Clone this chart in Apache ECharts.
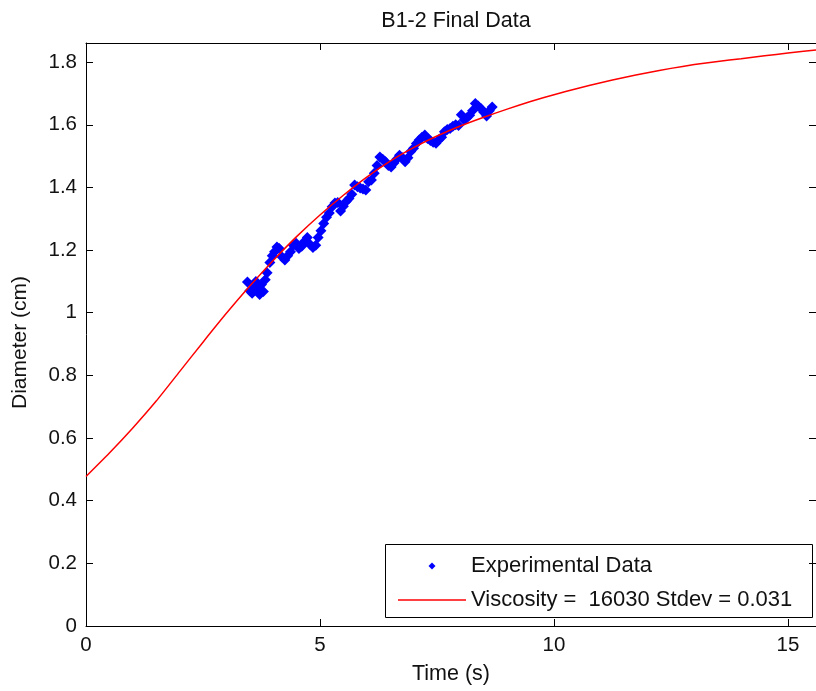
<!DOCTYPE html>
<html>
<head>
<meta charset="utf-8">
<script src="https://cdn.jsdelivr.net/npm/echarts@6/dist/echarts.min.js"></script>
<style>
  html, body { margin: 0; padding: 0; background: #fff; }
  #chart { width: 816px; height: 691px; }
</style>
</head>
<body>
<div id="chart"></div>
<script>
// Measured bubble diameter over time (cm vs s)
const timeS = [
  3.45, 3.50, 3.55, 3.59, 3.63, 3.67, 3.71, 3.75, 3.79, 3.83,
  3.87, 3.93, 3.98, 4.03, 4.08, 4.13, 4.19, 4.25, 4.31, 4.37,
  4.43, 4.49, 4.55, 4.61, 4.67, 4.73, 4.79, 4.85, 4.91, 4.96,
  5.02, 5.08, 5.14, 5.20, 5.26, 5.32, 5.38, 5.44, 5.50, 5.56,
  5.62, 5.68, 5.74, 5.80, 5.86, 5.92, 5.98, 6.04, 6.10, 6.16,
  6.22, 6.28, 6.34, 6.40, 6.46, 6.52, 6.58, 6.64, 6.70, 6.76,
  6.82, 6.88, 6.94, 7.00, 7.06, 7.12, 7.18, 7.24, 7.30, 7.36,
  7.42, 7.48, 7.54, 7.60, 7.66, 7.72, 7.78, 7.84, 7.90, 7.96,
  8.02, 8.08, 8.14, 8.20, 8.26, 8.32, 8.38, 8.44, 8.50, 8.56,
  8.62, 8.68
];
const diameterCm = [
  1.098, 1.070, 1.062, 1.085, 1.100, 1.075, 1.058, 1.090, 1.068, 1.105,
  1.128, 1.160, 1.182, 1.195, 1.210, 1.205, 1.178, 1.168, 1.182, 1.195,
  1.215, 1.222, 1.205, 1.212, 1.228, 1.240, 1.218, 1.208, 1.215, 1.240,
  1.262, 1.285, 1.305, 1.318, 1.338, 1.350, 1.352, 1.325, 1.340, 1.355,
  1.365, 1.378, 1.408, 1.402, 1.398, 1.395, 1.392, 1.418, 1.424, 1.445,
  1.470, 1.497, 1.490, 1.482, 1.470, 1.465, 1.478, 1.490, 1.503, 1.495,
  1.482, 1.495, 1.515, 1.525, 1.540, 1.551, 1.560, 1.567, 1.556, 1.550,
  1.544, 1.541, 1.552, 1.560, 1.578, 1.585, 1.588, 1.595, 1.600, 1.598,
  1.632, 1.615, 1.622, 1.630, 1.645, 1.668, 1.660, 1.652, 1.640, 1.628,
  1.645, 1.657
];

// Model fit curve
const fitTime = [
  0, 0.5, 1.0, 1.5, 2.0, 2.5, 3.0, 3.5, 4.0, 4.5, 5.0, 5.5, 6.0, 6.5, 7.0, 7.5,
  8.0, 8.5, 9.0, 9.5, 10.0, 10.5, 11.0, 11.5, 12.0, 12.5, 13.0, 13.5, 14.0,
  14.5, 15.0, 15.6
];
const fitDiameter = [
  0.477, 0.552, 0.632, 0.718, 0.812, 0.906, 0.998, 1.085, 1.167, 1.243, 1.312,
  1.375, 1.433, 1.484, 1.527, 1.564, 1.596, 1.624, 1.650, 1.674, 1.696, 1.716,
  1.734, 1.751, 1.766, 1.780, 1.792, 1.802, 1.811, 1.820, 1.829, 1.839
];

const xTicks = [0, 5, 10, 15];
const yTicks = [0, 0.2, 0.4, 0.6, 0.8, 1, 1.2, 1.4, 1.6, 1.8];

const titleText = 'B1-2 Final Data';
const xName = 'Time (s)';
const yName = 'Diameter (cm)';
const dataName = 'Experimental Data';
const fitName = 'Viscosity =  16030 Stdev = 0.031';

const FONT = '"Liberation Sans", Arial, Helvetica, sans-serif';
const X_MAX = 15.6;
const Y_MAX = 1.861;

const chart = echarts.init(document.getElementById('chart'), null, { renderer: 'canvas' });

const tickLabel = (ticks) => (v) => {
  const hit = ticks.find(t => Math.abs(t - v) < 1e-6);
  return hit === undefined ? '' : String(hit);
};

const axisCommon = {
  axisLine: { show: true, onZero: false, lineStyle: { color: '#000', width: 1 } },
  axisTick: { show: true, inside: true, length: 7, lineStyle: { color: '#000', width: 1 } },
  splitLine: { show: false }
};

chart.setOption({
  backgroundColor: '#fff',
  animation: false,
  title: {
    text: titleText,
    left: 451,
    top: 5,
    textAlign: 'center',
    textStyle: { fontFamily: FONT, fontSize: 21.5, fontWeight: 'normal', color: '#111' }
  },
  grid: { left: 86, top: 43, width: 732, height: 583, containLabel: false },
  xAxis: [
    Object.assign({}, axisCommon, {
      type: 'value', position: 'bottom', min: 0, max: X_MAX, interval: 5,
      name: xName, nameLocation: 'middle', nameGap: 37,
      nameTextStyle: { fontFamily: FONT, fontSize: 21.5, color: '#111' },
      axisLabel: {
        formatter: tickLabel(xTicks), showMaxLabel: false, margin: 9,
        fontFamily: FONT, fontSize: 20.5, color: '#111'
      }
    }),
    Object.assign({}, axisCommon, {
      type: 'value', position: 'top', min: 0, max: X_MAX, interval: 5,
      axisLabel: { show: false }
    })
  ],
  yAxis: [
    Object.assign({}, axisCommon, {
      type: 'value', position: 'left', min: 0, max: Y_MAX, interval: 0.2,
      name: yName, nameLocation: 'middle', nameGap: 55,
      nameTextStyle: { fontFamily: FONT, fontSize: 21, color: '#111', padding: [0, 16, 0, 0] },
      axisLabel: {
        formatter: tickLabel(yTicks), showMaxLabel: false, margin: 9,
        fontFamily: FONT, fontSize: 20.5, color: '#111'
      }
    }),
    Object.assign({}, axisCommon, {
      type: 'value', position: 'right', min: 0, max: Y_MAX, interval: 0.2,
      axisLabel: { show: false }
    })
  ],
  legend: {
    orient: 'vertical',
    left: 398,
    top: 555,
    padding: 0,
    itemWidth: 68,
    itemHeight: 14,
    itemGap: 12,
    selectedMode: false,
    textStyle: { fontFamily: FONT, fontSize: 22, color: '#111' },
    data: [
      { name: dataName, icon: 'path://M0,0M68,14M34,3.5L37.5,7L34,10.5L30.5,7Z' },
      { name: fitName, icon: 'path://M0,0M68,14M0,6.25L68,6.25L68,7.75L0,7.75Z' }
    ]
  },
  graphic: [
    {
      type: 'rect',
      z: 0,
      zlevel: 0,
      shape: { x: 385.5, y: 544.5, width: 427, height: 73 },
      style: { fill: '#fff', stroke: '#000', lineWidth: 1 }
    }
  ],
  series: [
    {
      name: dataName,
      type: 'scatter',
      symbol: 'diamond',
      symbolSize: 11,
      itemStyle: { color: '#0000ff', opacity: 1 },
      data: timeS.map((t, i) => [t, diameterCm[i]]),
      z: 3
    },
    {
      name: fitName,
      type: 'line',
      symbol: 'none',
      smooth: 0.2,
      lineStyle: { color: '#ff0000', width: 1.5 },
      itemStyle: { color: '#ff0000' },
      data: fitTime.map((t, i) => [t, fitDiameter[i]]),
      z: 4
    }
  ]
});
</script>
</body>
</html>
